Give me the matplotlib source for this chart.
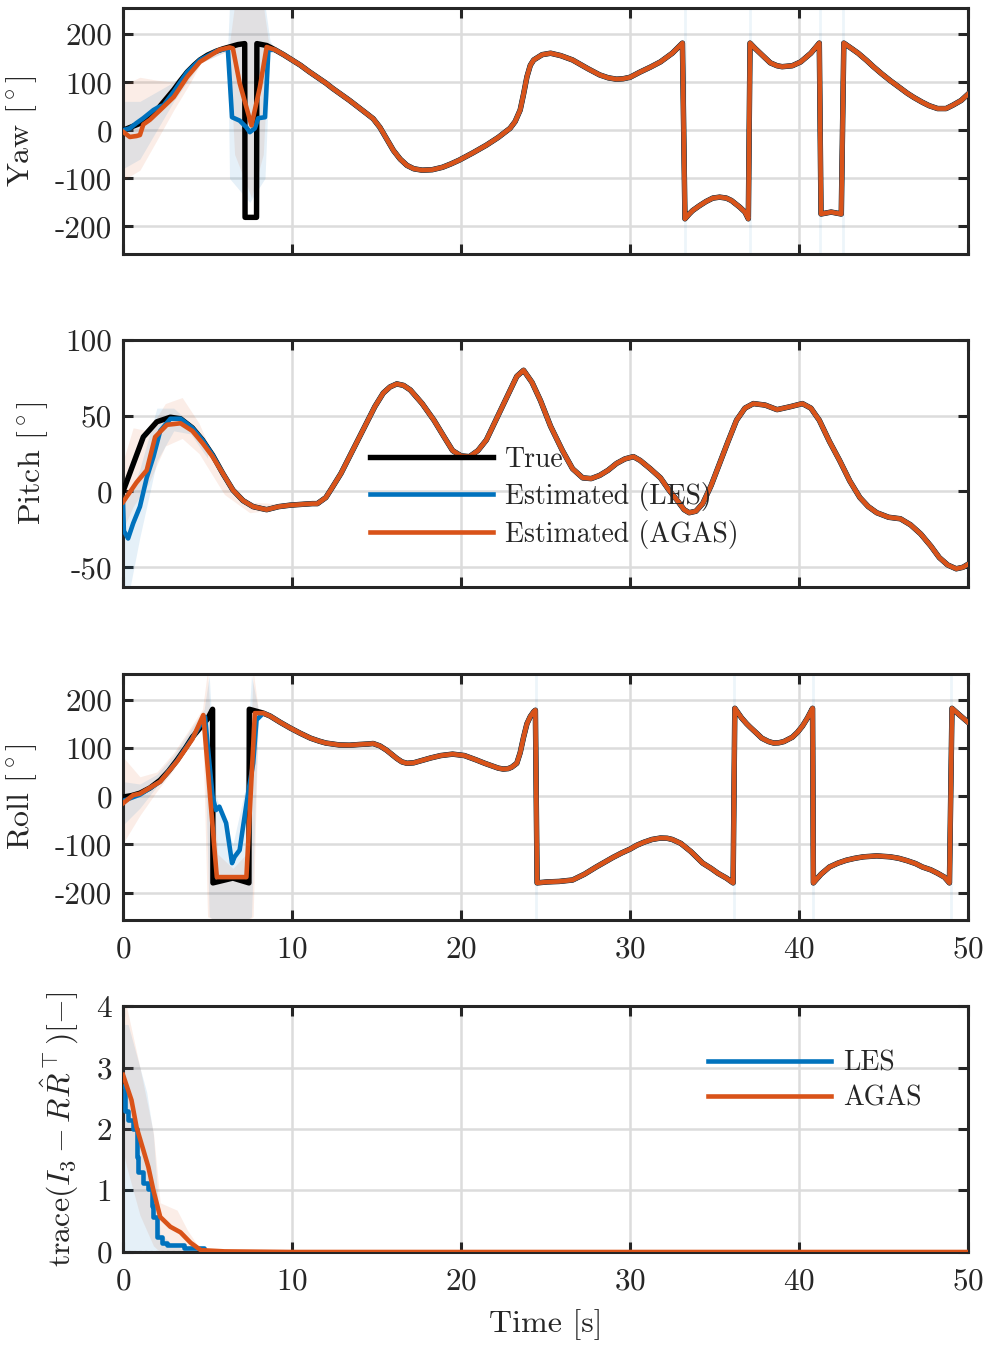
import matplotlib

matplotlib.use("Agg")
import matplotlib.pyplot as plt  # noqa: E402

# ---- data (time in s) ----
# Yaw [deg], true trajectory (wraps at +-180 show as vertical jumps)
yaw_true_t = [0, 0.5, 1.2, 1.6, 2.0, 2.5, 3.0, 3.4, 3.8, 4.2, 4.55, 5.0, 5.5, 5.9, 6.3, 6.8,
              7.2, 7.22, 7.55, 7.9, 7.92, 8.5, 9.0, 9.5, 10.0, 10.5, 11.0, 11.5, 12.0, 12.4,
              13.4, 14.4, 14.8, 15.2, 15.6, 16.0, 16.4, 16.8, 17.2, 17.7, 18.3, 18.9, 19.4,
              19.9, 20.7, 21.5, 22.2, 22.9, 23.2, 23.5, 23.7, 23.9, 24.1, 24.3, 24.8, 25.3,
              25.9, 26.6, 27.5, 28.2, 28.7, 29.2, 29.6, 30.0, 30.6, 31.2, 31.8, 32.5, 33.1,
              33.25, 33.5, 33.7, 34.1, 34.5, 34.9, 35.3, 35.7, 36.0, 36.5, 36.8, 37.0, 37.1,
              37.4, 37.7, 38.3, 38.7, 39.0, 39.6, 40.1, 40.7, 41.2, 41.3, 41.9, 42.5, 42.65,
              43.1, 43.5, 44.0, 44.4, 44.9, 45.4, 45.9, 46.4, 46.8, 47.3, 47.7, 48.2, 48.7,
              49.1, 49.6, 50.0]
yaw_true_v = [0, 7, 17, 28, 42, 63, 84, 103, 121, 135, 146, 156, 164, 169, 173, 178,
              180, -181, -181, -181, 180, 176, 167, 157, 146, 135, 122, 110, 98, 87,
              62, 35, 24, 6, -18, -42, -60, -73, -80, -83, -82, -77, -70,
              -62, -47, -31, -15, 4, 18, 42, 75, 111, 135, 146, 157, 160,
              155, 146, 128, 115, 109, 106, 107, 110, 121, 131, 142, 160, 181,
              -184, -174, -167, -157, -148, -141, -139, -141, -146, -160, -170, -184, 181,
              170, 160, 140, 134, 132, 134, 142, 160, 181, -174, -170, -174, 181,
              170, 160, 145, 132, 117, 103, 90, 77, 68, 58, 51, 45, 45,
              52, 62, 75]
yaw_les_t = [0, 0.4, 0.8, 1.2, 1.8, 2.1, 2.4, 3.0, 3.8, 4.55, 5.5, 6.2, 6.45, 6.9, 7.3, 7.5,
             7.8, 8.0, 8.4, 8.6]
yaw_les_v = [0, 4, 15, 25, 42, 48, 52, 80, 121, 146, 164, 170, 27, 20, 6, -4,
             4, 25, 27, 167]
yaw_agas_t = [0, 0.4, 0.8, 1.0, 1.2, 1.6, 2.2, 3.0, 3.8, 4.55, 5.7, 6.3, 6.5, 6.9, 7.6,
              8.1, 8.5]
yaw_agas_v = [-3, -14, -12, -10, 12, 22, 42, 69, 111, 142, 167, 172, 170, 98, 10,
              90, 173]
yaw_les_band_t = [0, 1, 2, 3, 4, 4.6, 6.0, 6.2, 6.3, 7.5, 8.4, 8.7, 8.9]
yaw_les_band_lo = [-80, -60, 0, 60, 110, 140, 162, 160, -100, -150, -100, 160, 170]
yaw_les_band_hi = [60, 60, 80, 100, 130, 150, 168, 180, 260, 260, 260, 185, 175]
yaw_agas_band_t = [0, 1, 2, 3, 4, 4.6, 6.0, 6.3, 6.6, 7.6, 8.3, 8.6, 8.9]
yaw_agas_band_lo = [-104, -83, -21, 42, 100, 140, 162, 160, -50, -140, -50, 165, 170]
yaw_agas_band_hi = [94, 110, 104, 100, 135, 150, 170, 180, 260, 260, 260, 185, 175]
yaw_jump_t = [33.25, 37.1, 41.25, 42.6]

# Pitch [deg]
pitch_true_t = [0, 1.2, 2.0, 2.8, 3.4, 4.1, 4.7, 5.3, 5.9, 6.5, 7.1, 7.7, 8.5, 9.2, 9.9,
                11.2, 11.5, 12.0, 12.4, 12.9, 13.4, 13.9, 14.4, 14.9, 15.4, 15.8, 16.2,
                16.6, 17.0, 17.7, 18.4, 19.0, 19.5, 20.0, 20.5, 21.0, 21.5, 22.1, 22.7,
                23.3, 23.7, 24.2, 24.7, 25.3, 26.0, 26.6, 27.2, 27.7, 28.2, 28.7, 29.2,
                29.7, 30.2, 30.6, 31.2, 31.8, 32.3, 32.8, 33.2, 33.5, 33.9, 34.3, 34.8,
                35.3, 35.8, 36.3, 36.8, 37.3, 38.0, 38.7, 39.5, 40.2, 40.7, 41.2, 41.8,
                42.4, 43.0, 43.6, 44.1, 44.6, 45.3, 46.0, 46.6, 47.2, 47.8, 48.3, 48.8,
                49.3, 49.7, 50.0]
pitch_true_v = [0, 36, 46, 49, 48, 42, 34, 24, 12, 1, -6, -10, -12, -10, -9,
                -8, -8, -4, 3, 12, 23, 34, 45, 56, 65, 69, 71,
                70, 67, 58, 47, 36, 27, 23.5, 23, 27, 34, 48, 62,
                76, 80, 72, 60, 43, 27, 15, 9, 8.5, 10.6, 14, 18.5,
                21.5, 23, 20.5, 15, 9, 1, -6, -12, -14, -13, -8, 4,
                18.5, 33, 47, 55, 58, 57, 54, 56, 58, 55, 47, 33,
                20.5, 7, -4, -10, -14, -17, -18, -22, -28, -36, -43.6, -48.5,
                -51, -50, -48]
pitch_les_t = [0, 0.05, 0.3, 0.6, 1.0, 1.4, 1.8, 2.2, 2.8]
pitch_les_v = [-8, -26, -31, -21, -10, 9, 23, 40, 48]
pitch_agas_t = [0, 0.8, 1.4, 1.9, 2.6, 3.4, 4.1, 4.7, 5.3]
pitch_agas_v = [-7, 6, 14, 36, 44, 45, 40, 32, 23]
pitch_les_band_t = [0, 0.3, 1.0, 2.0, 3.0, 4.0, 5.0]
pitch_les_band_lo = [-66, -70, -30, 20, 40, 38, 22]
pitch_les_band_hi = [0, -5, 15, 55, 55, 45, 27]
pitch_agas_band_t = [0, 0.6, 1.5, 2.5, 3.5, 4.5, 6.0, 7.5, 9.0]
pitch_agas_band_lo = [-25, -10, 5, 30, 35, 25, -2, -14, -12]
pitch_agas_band_hi = [20, 42, 40, 58, 62, 45, 6, -7, -8]

# Roll [deg]
roll_true_t = [0, 0.5, 1.0, 1.6, 2.2, 2.7, 3.2, 3.7, 4.1, 4.6, 5.0, 5.3, 5.32, 6.5, 7.45,
               7.47, 8.3, 8.7, 9.3, 9.9, 10.5, 11.1, 11.6, 12.0, 12.8, 13.4, 14.0, 14.5,
               14.8, 15.2, 15.6, 16.2, 16.5, 16.8, 17.2, 17.5, 18.2, 18.8, 19.5, 20.2,
               20.9, 21.4, 21.8, 22.2, 22.5, 22.8, 23.0, 23.3, 23.5, 23.7, 23.9, 24.1,
               24.3, 24.4, 24.5, 25.1, 25.8, 26.6, 27.3, 28.0, 28.5, 29.0, 29.5, 30.0,
               30.4, 30.8, 31.3, 31.8, 32.2, 32.5, 33.0, 33.6, 34.3, 34.8, 35.2, 35.7,
               36.1, 36.2, 36.4, 36.6, 36.9, 37.1, 37.5, 37.8, 38.2, 38.5, 38.8, 39.1,
               39.6, 39.9, 40.2, 40.5, 40.8, 40.85, 41.1, 41.3, 41.8, 42.3, 42.8, 43.3,
               43.8, 44.6, 45.4, 45.9, 46.4, 46.9, 47.3, 47.8, 48.2, 48.6, 48.9, 49.05,
               49.5, 50.0]
roll_true_v = [-2, 1, 6, 17, 33, 52, 75, 100, 122, 143, 160, 180, -180, -170, -180,
               180, 172, 166, 153, 141, 130, 120, 114, 110, 106, 105.5, 107, 108,
               109, 104, 95, 78, 71, 68, 69, 72, 79, 84, 87, 84,
               75, 68, 63, 58, 56, 57, 60, 68, 90, 122, 150, 165,
               175, 178, -180, -178, -177, -174, -162, -147, -137, -127, -118, -110,
               -102, -96, -90, -87, -87.5, -90, -98, -115, -139, -150, -160, -170,
               -180, 182, 172, 162, 150, 143, 130, 120, 113, 110, 110.5, 113,
               122, 132, 145, 162, 182, -180, -170, -162, -147, -139, -133, -129,
               -126, -124, -126, -129, -134, -140, -147, -153, -160, -168, -180, 182,
               168, 153]
roll_les_t = [0, 1.0, 2.2, 3.2, 4.1, 4.85, 5.3, 5.5, 5.7, 6.1, 6.45, 6.6, 6.9, 7.1, 7.4,
              7.7, 7.9, 8.3]
roll_les_v = [-10, 3, 30, 73, 120, 164, -1, -29, -22, -56, -139, -126, -112, -64, 6,
              68, 158, 172]
roll_agas_t = [0, 0.6, 1.0, 2.2, 3.2, 4.1, 4.75, 5.55, 7.3, 7.8, 8.3]
roll_agas_v = [-15, 2, 5, 30, 72, 118, 168, -168, -168, 172, 172]
roll_les_band_t = [0, 1, 2, 3, 4.8, 5.1, 5.5, 6.5, 7.2, 7.6, 8.0]
roll_les_band_lo = [-60, -25, 20, 60, 150, -250, -260, -260, -260, -250, 160]
roll_les_band_hi = [30, 25, 45, 85, 180, 250, 0, -100, 10, 250, 180]
roll_agas_band_t = [0, 1, 2, 3, 4.7, 5.0, 5.6, 6.5, 7.3, 7.7, 8.0]
roll_agas_band_lo = [-98, -40, 10, 55, 160, -250, -260, -260, -260, -250, 165]
roll_agas_band_hi = [81, 40, 50, 90, 180, 260, -120, -150, -120, 260, 180]
roll_jump_t = [24.45, 36.15, 40.82, 49.0]

# trace(I3 - R R_hat^T) [-]
err_les_t = [0, 0.1, 0.3, 0.6, 0.8, 0.9, 1.2, 1.5, 1.7, 1.8, 2.0, 2.3, 2.6, 3.6, 4.8, 50]
err_les_v = [2.7, 2.3, 2.15, 2.0, 1.55, 1.3, 1.12, 1.03, 0.75, 0.57, 0.25, 0.15, 0.11,
             0.06, 0.0, 0.0]
err_agas_t = [0, 0.5, 0.8, 1.2, 1.5, 1.8, 2.2, 2.8, 3.4, 4.0, 4.6, 6.0, 10.0, 50]
err_agas_v = [2.88, 2.47, 2.03, 1.66, 1.38, 1.0, 0.57, 0.41, 0.32, 0.15, 0.03, 0.01, 0.0, 0.0]
err_les_band_t = [0, 0.3, 1.4, 1.8, 2.2, 3.0, 4.0, 5.0]
err_les_band_lo = [0, 0, 0, 0, 0, 0, 0, 0]
err_les_band_hi = [3.7, 3.7, 2.6, 1.9, 0.3, 0.1, 0.02, 0.0]
err_agas_band_t = [0, 0.2, 1.0, 1.8, 2.2, 3.2, 3.8, 4.6, 6.0]
err_agas_band_lo = [1.66, 1.4, 0.6, 0.1, 0.0, 0.0, 0.0, 0.0, 0.0]
err_agas_band_hi = [4.0, 4.0, 3.0, 1.93, 0.8, 0.68, 0.36, 0.03, 0.0]

# ---- style ----
C_TRUE = "black"
C_LES = "#0072BD"
C_AGAS = "#D95319"
INK = "#262626"
FS_TICK = 22.5
FS_LABEL = 23
FS_LEG = 20
LW = 3.3

plt.rcParams["font.family"] = "serif"
plt.rcParams["font.serif"] = ["cmr10"]
plt.rcParams["mathtext.fontset"] = "cm"
plt.rcParams["axes.unicode_minus"] = False
plt.rcParams["axes.formatter.use_mathtext"] = True


def style_axes(ax, yticks, ylim, show_xlabels):
    ax.set_xlim(0, 50)
    ax.set_ylim(*ylim)
    ax.set_xticks(range(0, 51, 10))
    ax.set_yticks(yticks, [str(v) for v in yticks])
    if not show_xlabels:
        ax.set_xticklabels([])
    ax.grid(True, color="#dcdcdc", lw=1.8)
    ax.set_axisbelow(True)
    ax.tick_params(direction="in", top=True, right=True, length=7, width=2.2,
                   color=INK, labelcolor=INK, labelsize=FS_TICK)
    ax.tick_params(axis="y", pad=8)
    ax.tick_params(axis="x", pad=11)
    for sp in ax.spines.values():
        sp.set_linewidth(2.2)
        sp.set_color(INK)


def draw_angle(ax, true_t, true_v, les_t, les_v, agas_t, agas_v,
               lb_t, lb_lo, lb_hi, ab_t, ab_lo, ab_hi, jumps=()):
    ax.fill_between(ab_t, ab_lo, ab_hi, color=C_AGAS, alpha=0.1, lw=0, zorder=1)
    ax.fill_between(lb_t, lb_lo, lb_hi, color=C_LES, alpha=0.1, lw=0, zorder=1)
    for tj in jumps:
        ax.axvline(tj, color=C_LES, alpha=0.07, lw=2, zorder=1)
    ax.plot(true_t, true_v, color=C_TRUE, lw=LW + 0.6, zorder=3, label="True")
    # estimates follow the true curve once they have converged
    tail_les = [(t, v) for t, v in zip(true_t, true_v) if t > les_t[-1]]
    tail_agas = [(t, v) for t, v in zip(true_t, true_v) if t > agas_t[-1]]
    ax.plot(list(les_t) + [p[0] for p in tail_les], list(les_v) + [p[1] for p in tail_les],
            color=C_LES, lw=LW, zorder=4, label="Estimated (LES)")
    ax.plot(list(agas_t) + [p[0] for p in tail_agas], list(agas_v) + [p[1] for p in tail_agas],
            color=C_AGAS, lw=LW, zorder=5, label="Estimated (AGAS)")


def angle_label(ax, name, x):
    ax.set_ylabel(name + r" [$^\circ$]", fontsize=FS_LABEL, color=INK)
    ax.yaxis.set_label_coords(x, 0.5)


fig = plt.figure(figsize=(9.89, 13.5), dpi=100)
L, W = 0.1244, 0.8544
ax_yaw = fig.add_axes([L, 0.8119, W, 0.1822])
ax_pitch = fig.add_axes([L, 0.5652, W, 0.1830])
ax_roll = fig.add_axes([L, 0.3185, W, 0.1822])
ax_err = fig.add_axes([L, 0.0726, W, 0.1822])

draw_angle(ax_yaw, yaw_true_t, yaw_true_v, yaw_les_t, yaw_les_v, yaw_agas_t, yaw_agas_v,
           yaw_les_band_t, yaw_les_band_lo, yaw_les_band_hi,
           yaw_agas_band_t, yaw_agas_band_lo, yaw_agas_band_hi, yaw_jump_t)
style_axes(ax_yaw, [-200, -100, 0, 100, 200], (-257, 254), False)
angle_label(ax_yaw, "Yaw", -0.099)

draw_angle(ax_pitch, pitch_true_t, pitch_true_v, pitch_les_t, pitch_les_v,
           pitch_agas_t, pitch_agas_v,
           pitch_les_band_t, pitch_les_band_lo, pitch_les_band_hi,
           pitch_agas_band_t, pitch_agas_band_lo, pitch_agas_band_hi)
style_axes(ax_pitch, [-50, 0, 50, 100], (-63, 100), False)
angle_label(ax_pitch, "Pitch", -0.087)
leg = ax_pitch.legend(loc="center left", bbox_to_anchor=(0.292, 0.362), frameon=False,
                      fontsize=FS_LEG, handlelength=4.43, handletextpad=0.45,
                      labelspacing=0.32, borderpad=0, borderaxespad=0)
leg.set_zorder(10)
for txt in leg.get_texts():
    txt.set_color(INK)

draw_angle(ax_roll, roll_true_t, roll_true_v, roll_les_t, roll_les_v, roll_agas_t, roll_agas_v,
           roll_les_band_t, roll_les_band_lo, roll_les_band_hi,
           roll_agas_band_t, roll_agas_band_lo, roll_agas_band_hi, roll_jump_t)
style_axes(ax_roll, [-200, -100, 0, 100, 200], (-257, 253), True)
angle_label(ax_roll, "Roll", -0.099)

ax_err.fill_between(err_agas_band_t, err_agas_band_lo, err_agas_band_hi,
                    color=C_AGAS, alpha=0.1, lw=0, zorder=1)
ax_err.fill_between(err_les_band_t, err_les_band_lo, err_les_band_hi,
                    color=C_LES, alpha=0.1, lw=0, zorder=1)
ax_err.axhline(0, color="0.45", lw=1.5, ls=":", zorder=2)
ax_err.plot(err_les_t, err_les_v, color=C_LES, lw=LW, drawstyle="steps-post",
            zorder=4, label="LES")
ax_err.plot(err_agas_t, err_agas_v, color=C_AGAS, lw=LW, zorder=5, label="AGAS")
style_axes(ax_err, [0, 1, 2, 3, 4], (0, 4), True)
ax_err.set_ylabel(r"trace$(I_3 - R\hat{R}^\top)[-]$", fontsize=FS_LABEL, color=INK)
ax_err.yaxis.set_label_coords(-0.050, 0.5)
ax_err.set_xlabel("Time [s]", fontsize=FS_LABEL, color=INK, labelpad=10)
leg2 = ax_err.legend(loc="center left", bbox_to_anchor=(0.692, 0.695), frameon=False,
                     fontsize=FS_LEG, handlelength=4.43, handletextpad=0.45,
                     labelspacing=0.32, borderpad=0, borderaxespad=0)
for txt in leg2.get_texts():
    txt.set_color(INK)

fig.savefig("out.png", dpi=100)
